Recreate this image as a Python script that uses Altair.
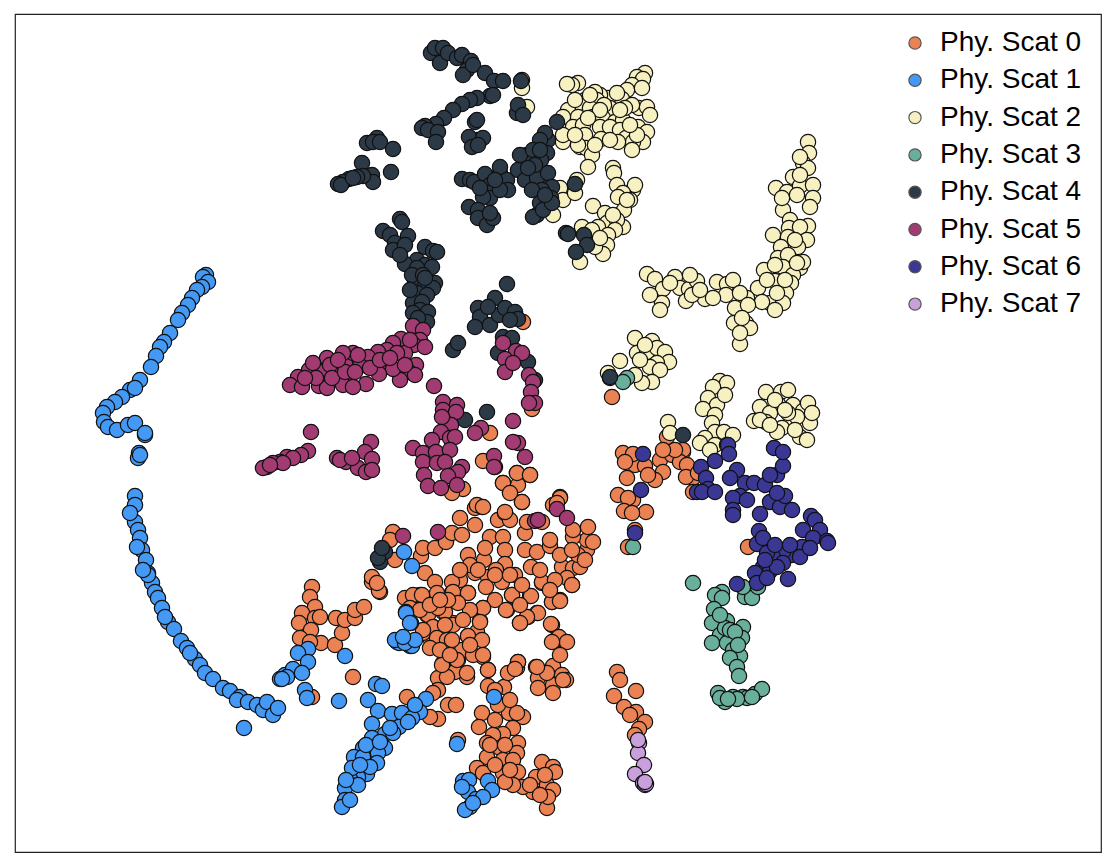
import altair as alt
import pandas as pd

names = ["Phy. Scat %d" % i for i in range(8)]
colors = ["#EA8254", "#4499F5", "#F7F0C0", "#68AF9C", "#2C3A48", "#A23B72", "#3A3894", "#C9A0DC"]

scat0 = [(623,453),(635,465),(633,454),(625,462),(645,466),(660,460),(672,455),(683,452),(683,450),(667,437),(663,472),(655,480),(648,475),(680,462),(687,465),(693,478),(686,477),(698,473),(693,492),(627,478),(618,495),(633,500),(628,498),(624,511),(646,512),(632,513),(635,530),(628,547),(748,547),(675,450),(663,450),
(617,672),(620,680),(636,691),(614,696),(624,707),(636,712),(645,722),(630,715),(639,729),(635,735),
(312,587),(310,597),(315,607),(302,613),(315,618),(299,623),(311,630),(320,617),(321,643),(335,645),(342,633),(336,618),(345,620),(355,618),(355,610),(364,607),(300,638),(310,642),(380,592),(372,582),(353,677),(407,697),(312,697),
(412,597),(420,595),(427,615),(443,612),(433,627),(453,623),(430,638),(440,638),(423,633),(452,593),(468,593),(483,608),(480,621),(468,636),(477,632),(458,660),(443,663),(462,650),(483,657),(473,655),(488,670),(467,677),(455,672),(438,678),(447,677),(438,690),(433,693),(448,705),(456,705),(438,719),(430,717),(488,686),(504,687),(508,673),(517,668),(518,662),(482,713),(509,713),(523,717),(517,713),(479,727),(513,728),(503,734),(518,743),(493,735),(500,748),(487,743),(517,753),(487,757),(503,760),(513,760),(477,768),(483,773),(503,773),(518,772),(542,762),(553,767),(555,772),(536,777),(547,785),(553,790),(533,792),(523,787),(513,785),(505,782),(547,808),(548,797),(458,740),
(536,667),(538,678),(538,688),(553,685),(553,693),(553,666),(562,675),(566,680),(547,673),(512,595),(507,610),(530,596),(552,602),(560,600),(537,613),(528,617),(520,623),(552,625),(558,637),(566,642),(553,642),(572,585),(542,583),
(393,532),(390,540),(395,560),(372,577),(379,591),(377,583),(421,556),(423,548),(425,573),(435,548),(446,542),(452,533),(462,535),(475,525),(460,518),(475,508),(482,507),(498,520),(505,513),(510,520),(490,537),(503,537),(468,555),(484,560),(485,548),(505,550),(505,564),(525,550),(525,533),(537,552),(550,546),(531,567),(542,582),(540,570),(562,567),(573,568),(567,578),(572,585),(580,567),(587,550),(587,540),(573,537),(573,530),(588,527),(593,542),(560,497),(553,505),(527,522),(542,522),(550,540),
(435,582),(437,593),(460,580),(452,582),(453,592),(468,593),(475,573),(488,577),(486,587),(502,582),(495,600),(506,610),(512,595),(531,596),(552,602),(560,601),(483,608),(480,622),(468,636),(482,640),(538,613),(527,617),(520,623),(551,624),(559,637),(567,642),(552,642),
(405,598),(413,595),(422,595),(428,615),(445,612),(438,608),(433,627),(453,625),(437,638),(423,630),(430,648),(447,640),(457,660),(442,665),(483,655),(467,673),(488,670),(518,662),(515,669),(537,667),(563,680),
(503,483),(517,473),(510,492),(522,502),(530,475),(518,485),(483,461),(503,483),(517,473),(530,475),(510,493),(522,502),(463,489),(452,493),(490,433),(523,322),(495,467),(477,505),(483,507),(560,498),(557,503),(505,512),(532,409),(612,397),
(470,565),(478,570),(460,570),(496,570),(515,575),(522,585),(495,575),(470,610),(458,603),(448,600),(463,620),(445,625),(440,650),(452,640),(470,645),(450,655),(495,690),(498,705),(495,720),(490,745),(510,700),(505,745),(495,765),(510,770),(530,785),(545,775),(540,795),(560,655),(410,608),(420,610),(430,605),(440,600),(520,605),(510,575),(555,580),(578,555),(560,555),(550,590),(585,560),(572,550)]

scat1 = [(206,275),(203,277),(208,282),(202,287),(197,290),(192,298),(188,305),(182,313),(178,320),(170,333),(164,342),(160,347),(156,356),(151,367),(140,380),(130,390),(135,388),(122,397),(115,402),(107,407),(103,413),(104,422),(108,427),(117,430),(128,425),(135,423),(145,435),(145,433),(139,453),(138,458),(140,455),
(135,496),(135,505),(135,522),(138,530),(140,538),(142,550),(146,560),(148,573),(152,583),(155,592),(158,598),(162,608),(168,622),(174,629),(181,641),(187,648),(195,659),(200,665),(205,673),(213,679),(223,688),(230,691),(240,697),(237,700),(248,702),(257,705),(263,710),(267,702),(273,715),(278,708),(244,728),(148,575),(143,570),(130,513),(137,547),(165,617),(190,653),
(280,679),(293,670),(285,675),(308,649),(298,653),(308,662),(293,669),(302,673),(287,677),(282,679),(345,656),(305,690),(307,698),(339,701),(376,684),(382,686),
(368,700),(378,711),(392,714),(402,713),(426,699),(420,712),(412,718),(399,727),(372,724),(385,734),(393,733),(372,738),(363,748),(385,748),(378,753),(354,757),(363,757),(377,763),(367,774),(358,777),(350,779),(345,788),(358,785),(345,800),(342,807),(350,800),(370,767),(457,744),
(406,612),(411,623),(397,642),(410,646),(404,552),(412,566),(406,613),(410,623),(399,643),(395,640),(412,646),(405,643),(415,640),(403,637),
(463,781),(469,780),(468,792),(476,799),(470,807),(465,810),(488,781),(492,790),(483,797),(473,803),(462,787),(494,697),
(366,745),(380,742),(390,728),(408,722),(415,705),(352,768),(346,780),(360,765)]

scat2 = [(578,83),(572,85),(567,84),(645,73),(637,77),(643,79),(632,85),(627,90),(642,88),(622,99),(608,98),(617,93),(600,95),(595,92),(597,100),(585,100),(580,103),(590,108),(610,108),(639,108),(647,107),(632,105),(568,110),(578,117),(563,117),(593,117),(603,118),(615,122),(623,120),(573,127),(583,125),(600,127),(610,127),(620,130),(638,127),(647,132),(585,135),(563,142),(601,139),(626,138),(643,142),(633,142),(632,150),(618,142),(580,147),(586,148),(592,155),(588,167),(578,145),(637,135),
(613,168),(614,173),(617,185),(633,190),(635,185),(623,193),(618,197),(630,200),(624,210),(593,206),(605,213),(607,223),(623,227),(617,220),(598,227),(582,227),(615,230),(608,235),(595,238),(607,245),(603,254),(595,247),(580,262),(592,230),
(560,188),(563,200),(553,215),(575,193),(577,180),(522,80),(522,88),(527,107),(563,135),
(808,142),(809,153),(803,163),(808,168),(800,157),(793,177),(776,188),(787,192),(800,186),(813,185),(813,198),(810,207),(783,210),(782,198),(797,195),(790,220),(789,228),(808,226),(800,227),(773,235),(788,237),(807,240),(798,247),(781,247),(778,258),(788,255),(783,267),(800,268),(803,262),(793,275),(764,270),(775,281),(791,283),(758,288),(786,293),(770,303),(783,303),(762,302),(777,293),(775,310),(797,263),(767,280),
(647,274),(655,279),(663,289),(675,277),(662,303),(660,310),(680,288),(689,289),(686,301),(697,281),(690,275),(705,299),(717,282),(727,284),(726,295),(713,298),(733,280),(747,298),(739,307),(735,308),(734,323),(746,323),(750,328),(740,344),(740,333),(650,295),(670,283),(740,293),
(635,338),(652,341),(637,353),(647,352),(657,348),(665,352),(669,362),(657,363),(650,367),(620,361),(660,370),(652,382),(642,383),(635,375),(608,373),
(720,381),(727,383),(713,387),(708,398),(717,405),(725,395),(703,409),(715,415),(712,423),(715,432),(705,438),(724,432),(733,435),(715,445),(700,443),(668,422),(670,433),(710,450),(727,445),
(766,392),(781,392),(788,390),(778,404),(760,407),(770,413),(754,421),(766,422),(793,405),(803,411),(808,403),(790,424),(782,428),(800,437),(810,423),(807,440),(777,432),(797,417),(788,413),(812,413),
(575,100),(590,95),(604,105),(625,108),(650,115),(620,110),(600,110),(588,118),(610,140),(595,145),(630,125),(575,135),(627,200),(613,215),(600,238),(800,175),(795,240),(775,265),(785,280),(748,305),(742,318),(692,295),(700,290),(640,360),(645,345),(775,400),(760,420),(785,410),(795,430),(770,425)]

scat3 = [(610,378),(627,378),(623,382),(633,547),(693,583),(722,592),(715,595),(722,598),(714,609),(727,621),(712,623),(743,627),(742,638),(720,635),(712,643),(727,643),(733,650),(740,656),(730,658),(737,667),(739,676),(745,597),(752,598),(758,587),(743,587),
(718,693),(725,702),(733,697),(743,697),(755,694),(762,689),(747,698),(737,699),(720,698),(728,699),(752,697),(725,628),(730,630),(720,615),(735,632),(738,645)]

scat4 = [(431,53),(440,63),(435,48),(443,48),(448,53),(457,58),(462,55),(471,61),(467,70),(463,75),(473,65),(485,73),(494,81),(503,81),(521,81),
(490,96),(477,98),(493,95),(470,100),(462,104),(453,110),(444,118),(436,124),(425,126),(422,128),(428,130),(438,132),(436,142),(475,122),(477,120),(477,140),(469,137),(483,138),(472,147),(478,145),(517,113),(518,105),(523,115),
(367,143),(377,138),(373,142),(380,142),(393,149),(362,163),(391,172),(372,175),(373,182),(363,176),(357,177),(349,179),(343,182),(338,184),(341,185),(353,178),
(462,179),(470,180),(474,182),(485,174),(500,173),(500,167),(507,180),(508,190),(490,185),(488,193),(490,198),(483,197),(469,207),(478,210),(478,218),(487,225),(493,218),(490,213),(500,190),
(557,122),(548,140),(545,133),(540,140),(527,155),(520,155),(533,150),(547,153),(541,160),(518,170),(531,170),(525,180),(545,180),(537,178),(548,173),(552,187),(542,190),(551,198),(540,203),(537,215),(533,217),(543,210),(552,203),(575,184),(566,233),(568,234),(584,235),(587,245),(576,252),
(400,219),(402,222),(383,231),(390,235),(408,236),(395,243),(393,250),(405,245),(425,247),(433,251),(437,252),(417,260),(405,264),(425,265),(432,267),(417,268),(415,282),(425,286),(435,283),(433,288),(417,293),(427,295),(413,303),(422,302),(420,310),(428,312),(413,313),(427,322),(418,318),
(507,284),(495,298),(478,308),(480,317),(475,327),(490,325),(499,315),(488,307),(505,308),(515,312),(518,319),(510,320),(503,337),(512,338),(453,350),(458,343),(528,362),(535,380),(498,353),(487,412),(465,420),
(380,562),(385,552),(378,558),(382,548),(610,377),(683,435),(400,255),(412,275),(423,275),(410,290),(425,278),(535,165),(528,168),(540,150),(532,190),(545,195),(495,180),(480,188)]

scat5 = [(413,326),(423,330),(401,339),(420,340),(414,345),(425,347),(393,343),(387,350),(378,352),(405,353),(397,353),(387,362),(416,365),(409,372),(415,375),(400,380),(393,369),(379,374),(368,357),(360,366),(366,384),(348,379),(345,363),(327,358),(353,353),(343,353),(336,373),(322,372),(309,370),(298,377),(290,385),(302,387),(319,386),(327,388),(343,385),(353,387),(313,363),(330,365),(358,355),(434,386),
(503,343),(516,351),(505,359),(505,372),(522,353),(513,363),(529,375),(533,382),(531,392),(535,403),(529,403),
(443,402),(457,405),(443,410),(456,412),(451,425),(442,417),(441,432),(432,440),(450,438),(455,437),(413,448),(423,453),(436,452),(450,450),(423,462),(437,463),(445,462),(462,467),(458,472),(448,476),(424,475),(428,486),(441,488),(457,485),
(481,428),(475,433),(513,421),(518,443),(525,457),(513,442),(494,456),(494,467),
(311,432),(308,451),(301,455),(287,457),(280,462),(273,463),(267,467),(263,468),(293,458),(283,463),(270,465),
(371,442),(365,452),(372,459),(346,462),(337,458),(340,460),(358,468),(366,472),(372,470),(352,458),
(403,536),(438,532),(535,521),(538,520),(557,509),(567,518),
(316,378),(332,378),(345,372),(355,372),(370,368),(380,360),(390,358),(305,378),(338,360),(405,365),(410,340)]

scat6 = [(643,454),(641,490),(635,533),(715,461),(701,467),(728,445),(729,454),(737,470),(706,478),(730,478),(708,489),(697,492),(702,492),(715,492),(745,483),(754,483),(765,485),(777,475),(770,475),(783,466),(774,448),(783,452),(740,496),(733,498),(747,500),(733,510),(733,515),(770,502),(780,507),(785,496),(792,510),(777,493),(760,514),(759,531),(811,516),(815,520),(803,530),(820,530),(813,538),(827,541),(828,543),(802,547),(792,555),(783,552),(773,557),(783,563),(757,544),(763,538),(767,553),(763,567),(770,571),(788,579),(755,573),(757,583),(737,584),(767,578),(777,567),(800,557),(810,548),(775,545),(790,545),(765,560)]

scat7 = [(639,743),(638,753),(644,765),(635,774),(643,783),(645,785),(646,784),(638,740),(645,782)]

groups = [scat0, scat1, scat2, scat3, scat4, scat5, scat6, scat7]
rows = [{"x": p[0], "y": p[1], "cat": names[i]} for i, g in enumerate(groups) for p in g]
df = pd.DataFrame(rows)

chart = alt.Chart(df).mark_point(filled=True, size=235, opacity=1, stroke="#111111", strokeWidth=1.2).encode(
    x=alt.X("x:Q", axis=None, scale=alt.Scale(domain=[15, 1101], nice=False, zero=False)),
    y=alt.Y("y:Q", axis=None, scale=alt.Scale(domain=[852, 14], nice=False, zero=False)),
    color=alt.Color("cat:N", scale=alt.Scale(domain=names, range=colors), sort=names,
        legend=alt.Legend(orient="none", legendX=886, legendY=15, title=None, labelFontSize=28,
            labelFont="Liberation Sans", labelColor="black", symbolSize=150, symbolType="circle",
            symbolStrokeColor="#555555", symbolStrokeWidth=1.2, symbolOpacity=1, rowPadding=9.3, labelOffset=11,
            labelLimit=200)),
).properties(
    width=1086, height=838,
    padding={"left": 7, "top": 6, "right": 2, "bottom": 2},
    autosize=alt.AutoSizeParams(type="none"),
    background="white",
).configure_view(stroke="#222222", strokeWidth=1.2, fill="white")

chart.save("out.html", embed_options={"renderer": "svg", "actions": False})
